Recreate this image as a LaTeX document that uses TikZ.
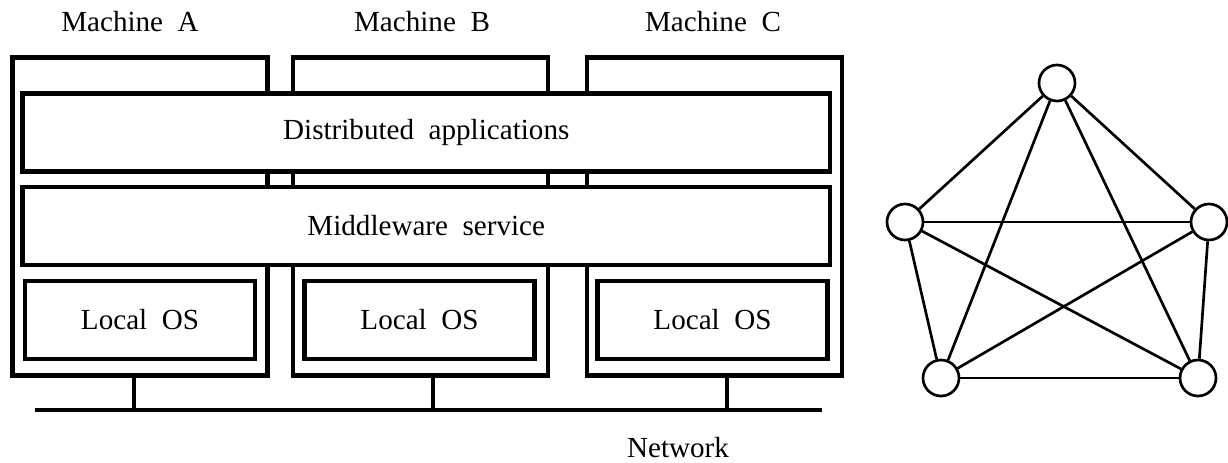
\documentclass[tikz,border=0pt]{standalone}
\usepackage{fontspec}
\setmainfont{Liberation Serif}

\begin{document}
\begin{tikzpicture}[x=0.025cm,y=-0.025cm,
    machine/.style ={draw, line width=3.2pt, minimum width=6.375cm, minimum height=7.94cm, inner sep=0pt},
    layer/.style ={draw, line width=3.2pt, fill=white, minimum width=20.19cm, minimum height=1.94cm, inner sep=0pt},
    localos/.style ={draw, line width=3.2pt, minimum width=5.75cm, minimum height=1.95cm, inner sep=0pt},
    label/.style ={font=\fontsize{20.7}{24}\selectfont},
    peer/.style ={circle, draw, line width=1.9pt, minimum size=0.9cm, inner sep=0pt}]
   \useasboundingbox (0,0) rectangle (1228,462);

   % machines
   \node[machine] (mA) at (140,216.5) {};
   \node[machine] (mB) at (420.5,216.5) {};
   \node[machine] (mC) at (714.5,216.5) {};
   \node[label] (tA) at (130,22) {Machine\ \ A};
   \node[label] (tB) at (422,22) {Machine\ \ B};
   \node[label] (tC) at (713,22) {Machine\ \ C};

   % shared layers
   \node[layer,label] (apps) at (426.25,132.5) {Distributed\ \ applications};
   \node[layer,label] (mw) at (426.25,226) {Middleware\ \ service};

   \node[localos,label] (osA) at (140,320) {Local\ \ OS};
   \node[localos,label] (osB) at (419.5,320) {Local\ \ OS};
   \node[localos,label] (osC) at (712.5,320) {Local\ \ OS};

   % network
   \coordinate (netW) at (35,410);
   \coordinate (netE) at (822,410);
   \coordinate (tapA) at (134,410);
   \coordinate (tapB) at (433,410);
   \coordinate (tapC) at (727,410);
   \draw[line width=3.2pt] (netW) -- (netE);
   \draw[line width=3.2pt] (tapA |- mA.south) -- (tapA);
   \draw[line width=3.2pt] (tapB |- mB.south) -- (tapB);
   \draw[line width=3.2pt] (tapC |- mC.south) -- (tapC);
   \node[label] (net) at (678,448) {Network};

   % fully connected peers
   \node[peer] (P1) at (1057,83) {};
   \node[peer] (P2) at (905,222) {};
   \node[peer] (P3) at (1209,222) {};
   \node[peer] (P4) at (941,378) {};
   \node[peer] (P5) at (1198,378) {};

   \draw[line width=1.9pt] (P1) to (P2);
   \draw[line width=1.9pt] (P1) to (P3);
   \draw[line width=1.9pt] (P1) to (P4);
   \draw[line width=1.9pt] (P1) to (P5);
   \draw[line width=1.9pt] (P2) to (P3);
   \draw[line width=1.9pt] (P2) to (P4);
   \draw[line width=1.9pt] (P2) to (P5);
   \draw[line width=1.9pt] (P3) to (P4);
   \draw[line width=1.9pt] (P3) to (P5);
   \draw[line width=1.9pt] (P4) to (P5);
 \end{tikzpicture}
\end{document}
